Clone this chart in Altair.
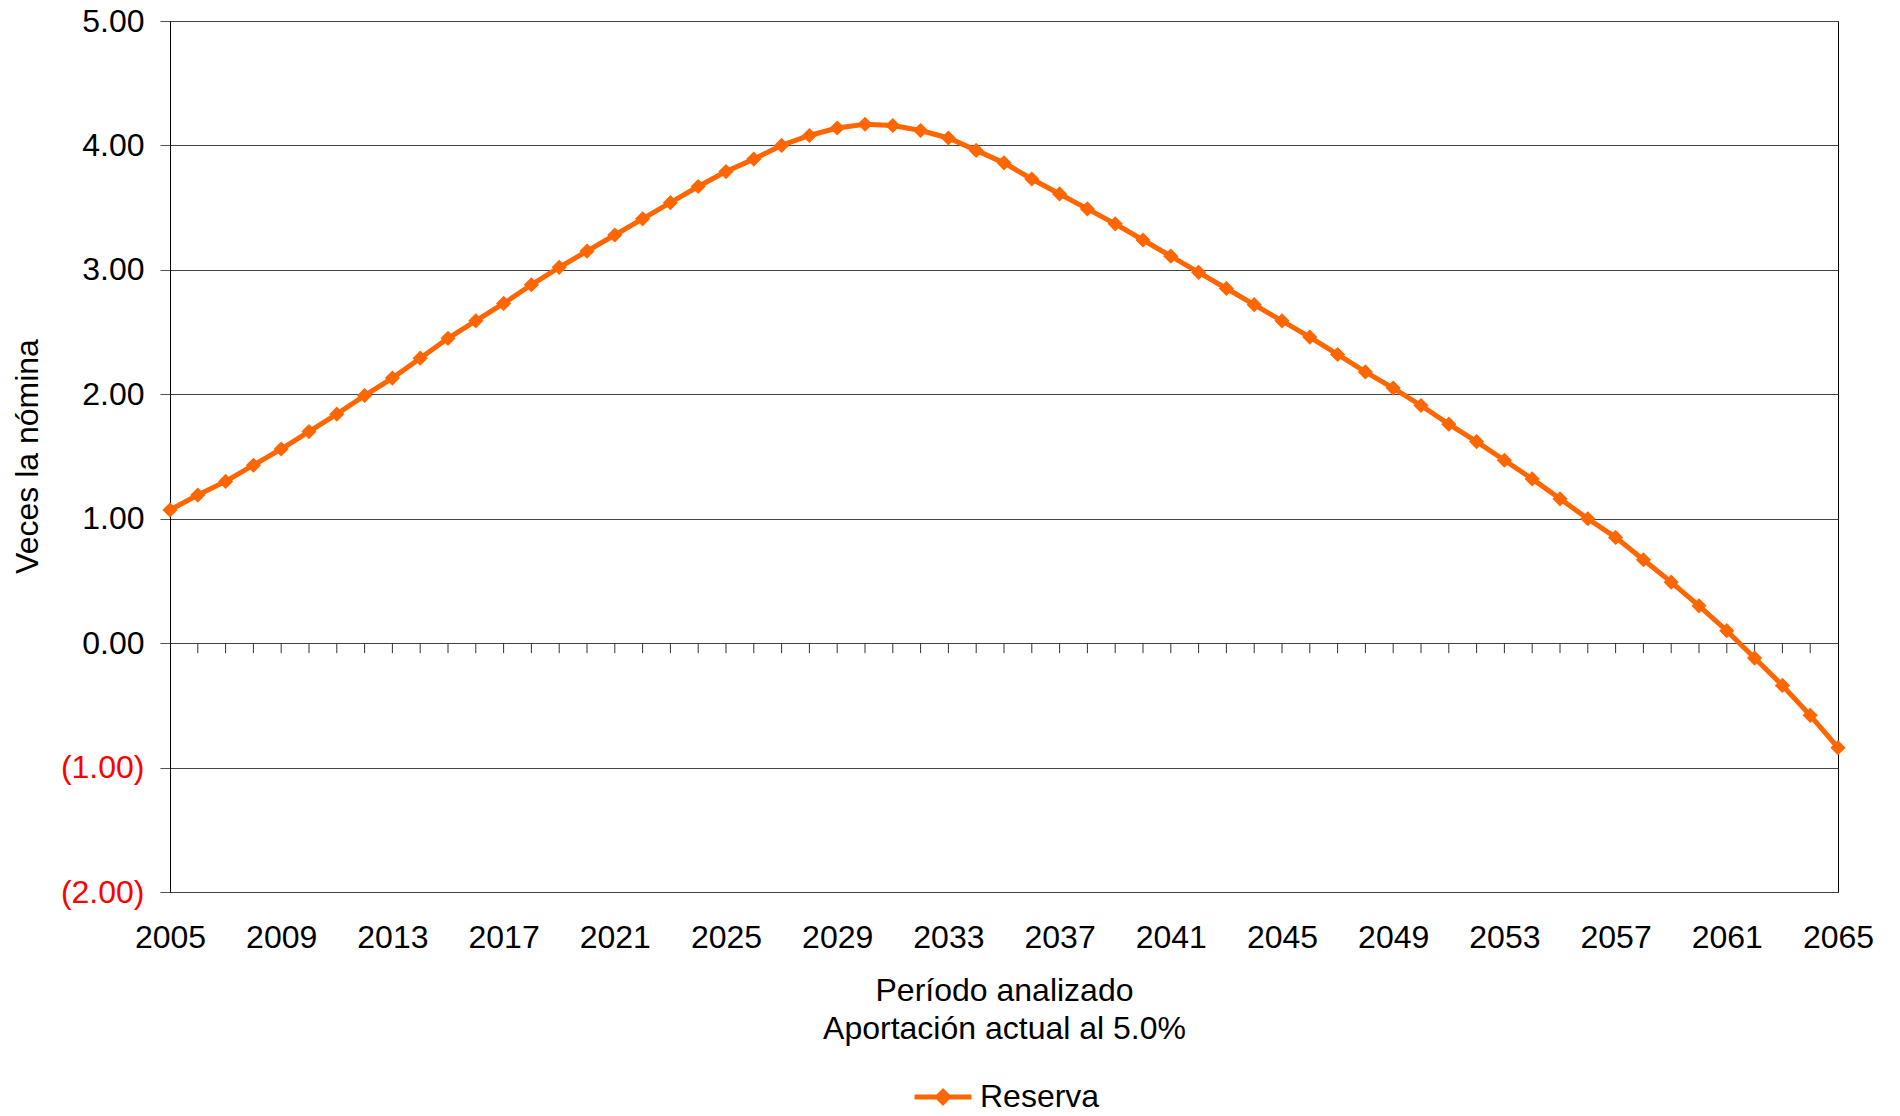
import altair as alt
import pandas as pd

years = [2005, 2006, 2007, 2008, 2009, 2010, 2011, 2012, 2013, 2014,
         2015, 2016, 2017, 2018, 2019, 2020, 2021, 2022, 2023, 2024,
         2025, 2026, 2027, 2028, 2029, 2030, 2031, 2032, 2033, 2034,
         2035, 2036, 2037, 2038, 2039, 2040, 2041, 2042, 2043, 2044,
         2045, 2046, 2047, 2048, 2049, 2050, 2051, 2052, 2053, 2054,
         2055, 2056, 2057, 2058, 2059, 2060, 2061, 2062, 2063, 2064, 2065]
reserva = [1.07, 1.19, 1.30, 1.43, 1.56, 1.70, 1.84, 1.99, 2.13, 2.29,
           2.45, 2.59, 2.73, 2.88, 3.02, 3.15, 3.28, 3.41, 3.54, 3.67,
           3.79, 3.89, 4.00, 4.08, 4.14, 4.17, 4.16, 4.12, 4.06, 3.96,
           3.86, 3.73, 3.61, 3.49, 3.37, 3.24, 3.11, 2.98, 2.85, 2.72,
           2.59, 2.46, 2.32, 2.18, 2.05, 1.91, 1.76, 1.62, 1.47, 1.32,
           1.16, 1.00, 0.85, 0.67, 0.49, 0.30, 0.10, -0.12, -0.34, -0.58, -0.84]
x_tick_labels = [2005, 2009, 2013, 2017, 2021, 2025, 2029, 2033, 2037,
                 2041, 2045, 2049, 2053, 2057, 2061, 2065]
y_ticks = [-2, -1, 0, 1, 2, 3, 4, 5]
series_name = "Reserva"

df = pd.DataFrame({"year": years, "value": reserva, "serie": series_name})
tick_df = pd.DataFrame({"year": years[1:-1], "y0": 0.0, "y1": -0.08})

FONT = "Liberation Sans"
ORANGE = "#FF6600"
FS = 32

xscale = alt.Scale(domain=[2005, 2065], nice=False, zero=False)
yscale = alt.Scale(domain=[-2, 5], nice=False, zero=False)

legend_path = "M-1,0L1,0M0,-0.19L0.19,0L0,0.19L-0.19,0Z"

line = alt.Chart(df).mark_line(
    strokeWidth=5,
    point=alt.OverlayMarkDef(shape="diamond", size=230, filled=True, color=ORANGE),
).encode(
    x=alt.X("year:Q", scale=xscale,
            axis=alt.Axis(values=x_tick_labels, format="d", ticks=False, domain=False,
                          grid=False, labelFontSize=FS, labelFont=FONT, labelColor="black",
                          labelPadding=30, labelFlush=False, labelOverlap=False,
                          title=["Período analizado", "Aportación actual al 5.0%"],
                          titleFont=FONT, titleFontSize=FS, titleFontWeight="normal",
                          titleColor="black", titleX=834, titleY=108, titleAlign="center",
                          titleBaseline="alphabetic", titleLineHeight=38)),
    y=alt.Y("value:Q", scale=yscale,
            axis=alt.Axis(values=y_ticks,
                          labelExpr="datum.value < 0 ? '(' + format(-datum.value, '.2f') + ')' : format(datum.value, '.2f')",
                          labelColor=alt.condition("datum.value < 0", alt.value("#FF0000"), alt.value("black")),
                          labelFontSize=FS, labelFont=FONT, labelPadding=16,
                          tickSize=10, tickColor="#555555", domainColor="black",
                          grid=True, gridColor="#444444", gridWidth=1,
                          title="Veces la nómina", titleFont=FONT, titleFontSize=FS,
                          titleFontWeight="normal", titleColor="black",
                          titleAngle=270, titleX=-133, titleY=435, titleAlign="center",
                          titleBaseline="alphabetic")),
    color=alt.Color("serie:N", scale=alt.Scale(range=[ORANGE]),
                    legend=alt.Legend(title=None, orient="none", legendX=742, legendY=1045,
                                      symbolType=legend_path, symbolSize=3249,
                                      symbolStrokeWidth=5, symbolFillColor=ORANGE,
                                      symbolStrokeColor=ORANGE,
                                      labelFont=FONT, labelFontSize=FS, labelColor="black",
                                      labelOffset=6, padding=0)),
)

ticks = alt.Chart(tick_df).mark_rule(color="#333333", strokeWidth=1).encode(
    x=alt.X("year:Q", scale=xscale),
    y=alt.Y("y0:Q", scale=yscale),
    y2="y1:Q",
)

chart = alt.layer(ticks, line).properties(
    width=1668, height=871,
    padding={"left": 162, "top": 13, "right": 50, "bottom": 216},
    autosize=alt.AutoSizeParams(type="none"),
    background="white",
).configure_view(stroke="black", strokeWidth=1)

chart.save("out.html", embed_options={"renderer": "svg", "actions": False})
